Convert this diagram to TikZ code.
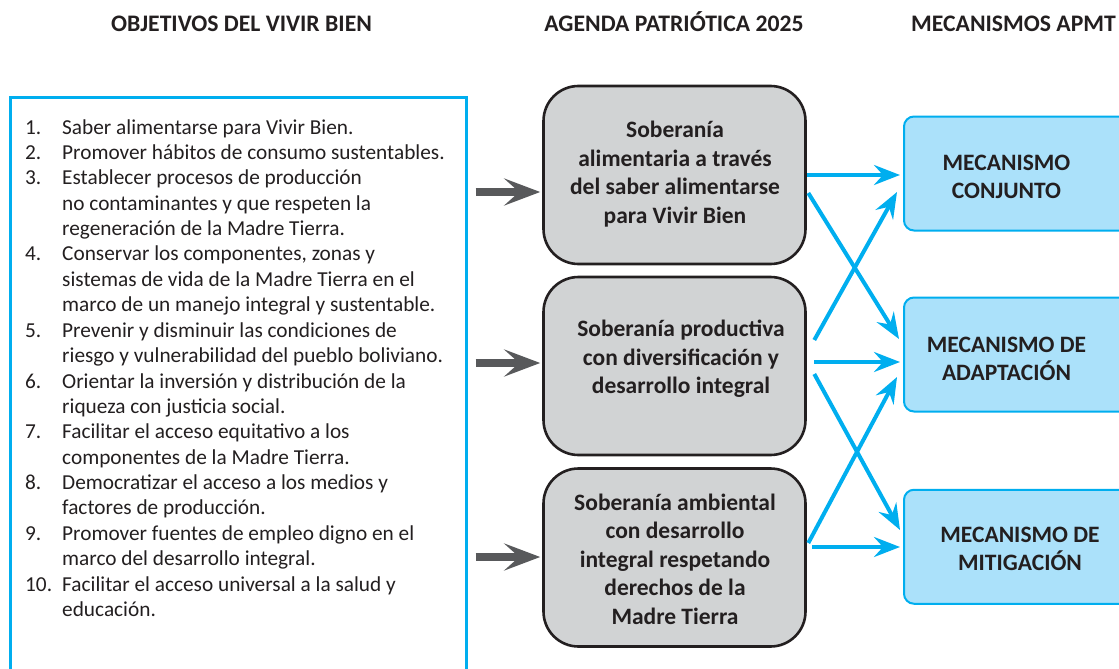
\documentclass[tikz,border=0pt]{standalone}
\usepackage{fontspec}
\setmainfont{Carlito}
\usetikzlibrary{arrows.meta,calc}
\definecolor{txt}{HTML}{231F20}
\definecolor{cyanline}{HTML}{00AEEF}
\definecolor{lightblue}{HTML}{ABE1FA}
\definecolor{grayfill}{HTML}{D1D3D4}
\definecolor{arrowgray}{HTML}{58595B}
\tikzset{
  header/.style={font=\fontsize{23.7}{28}\selectfont\bfseries, text=txt, anchor=base, inner sep=0},
  agendabox/.style={draw=txt, fill=grayfill, line width=2.6pt, rounded corners=35pt, minimum width=262pt, minimum height=178pt},
  agendatext/.style={font=\fontsize{23.5}{28.5}\selectfont\bfseries, text=txt, align=center, inner sep=0},
  mechbox/.style={draw=cyanline, fill=lightblue, line width=2pt, rounded corners=10pt, minimum width=240pt, minimum height=114pt, anchor=west},
  mechtext/.style={font=\fontsize{23.5}{28.5}\selectfont\bfseries, text=txt, align=center, inner sep=0},
  listbox/.style={draw=cyanline, line width=2.5pt, minimum width=456pt, minimum height=604pt, anchor=north west, inner sep=0},
  grayarrow/.style={draw=arrowgray, line width=8pt, -{Stealth[length=36pt,width=27pt,inset=15pt]}},
  bluearrow/.style={draw=cyanline, line width=4pt, -{Stealth[length=26pt,width=20pt,inset=9pt]}},
}
\begin{document}
\begin{tikzpicture}[x=1pt,y=-1pt]
\useasboundingbox (0,0) rectangle (1119,669);
% headers
\node[header] (h1) at (241.5,32) {OBJETIVOS DEL VIVIR BIEN};
\node[header] (h2) at (674,32) {AGENDA PATRIÓTICA 2025};
\node[header] (h3) at (1013.5,32) {MECANISMOS APMT};
% left list box
\node[listbox] (L) at (9,96) {};
\node[anchor=base west, inner sep=0, text=txt, font=\fontsize{21.3}{25.4}\selectfont] (list) at (25,134) {%
\begin{tabular}[t]{@{}p{37pt}@{}l@{}}
1. & Saber alimentarse para Vivir Bien.\\
2. & Promover hábitos de consumo sustentables.\\
3. & Establecer procesos de producción\\
   & no contaminantes y que respeten la\\
   & regeneración de la Madre Tierra.\\
4. & Conservar los componentes, zonas y\\
   & sistemas de vida de la Madre Tierra en el\\
   & marco de un manejo integral y sustentable.\\
5. & Prevenir y disminuir las condiciones de\\
   & riesgo y vulnerabilidad del pueblo boliviano.\\
6. & Orientar la inversión y distribución de la\\
   & riqueza con justicia social.\\
7. & Facilitar el acceso equitativo a los\\
   & componentes de la Madre Tierra.\\
8. & Democratizar el acceso a los medios y\\
   & factores de producción.\\
9. & Promover fuentes de empleo digno en el\\
   & marco del desarrollo integral.\\
10. & Facilitar el acceso universal a la salud y\\
   & educación.
\end{tabular}};
% agenda boxes
\node[agendabox] (g1) at (674.5,175) {};
\node[agendabox] (g2) at (674.5,366) {};
\node[agendabox] (g3) at (674.5,557.5) {};
\node[agendatext] (t1) at (675,174) {Soberanía\\alimentaria a través\\del saber alimentarse\\para Vivir Bien};
\node[agendatext] (t2) at (681,359) {Soberanía productiva\\con diversificación y\\desarrollo integral};
\node[agendatext] (t3) at (675,559) {Soberanía ambiental\\con desarrollo\\integral respetando\\derechos de la\\Madre Tierra};
% mechanism boxes
\node[mechbox] (m1) at (903,173.5) {};
\node[mechbox] (m2) at (903,354.5) {};
\node[mechbox] (m3) at (903,546.75) {};
\node[mechtext] (u1) at (1006.5,177) {MECANISMO\\CONJUNTO};
\node[mechtext] (u2) at (1006.5,359) {MECANISMO DE\\ADAPTACIÓN};
\node[mechtext] (u3) at (1020,549) {MECANISMO DE\\MITIGACIÓN};
% gray arrows
\draw[grayarrow] ($(L.north east)+(8,96)$) -- ($(g1.west)+(-2,17)$);
\draw[grayarrow] ($(L.north east)+(8,267)$) -- ($(g2.west)+(-2,-3)$);
\draw[grayarrow] ($(L.north east)+(8,461)$) -- ($(g3.west)+(-2,-0.5)$);
% blue arrows
\draw[bluearrow] ($(g1.east)+(0.5,0)$) -- ($(m1.west)+(-3,1.5)$);
\draw[bluearrow] ($(g1.east)+(1.5,18)$) -- ($(m2.west)+(-4,-15.5)$);
\draw[bluearrow] ($(g2.east)+(7.5,-26)$) -- ($(m1.west)+(-6,18.5)$);
\draw[bluearrow] ($(g2.east)+(7.5,-4)$) -- ($(m2.west)+(-3,7.5)$);
\draw[bluearrow] ($(g2.east)+(7.5,8)$) -- ($(m3.west)+(-3,-16.75)$);
\draw[bluearrow] ($(g3.east)+(1.5,-14.5)$) -- ($(m2.west)+(-6,22.5)$);
\draw[bluearrow] ($(g3.east)+(5.5,-10.5)$) -- ($(m3.west)+(-3,0.25)$);
\end{tikzpicture}
\end{document}
